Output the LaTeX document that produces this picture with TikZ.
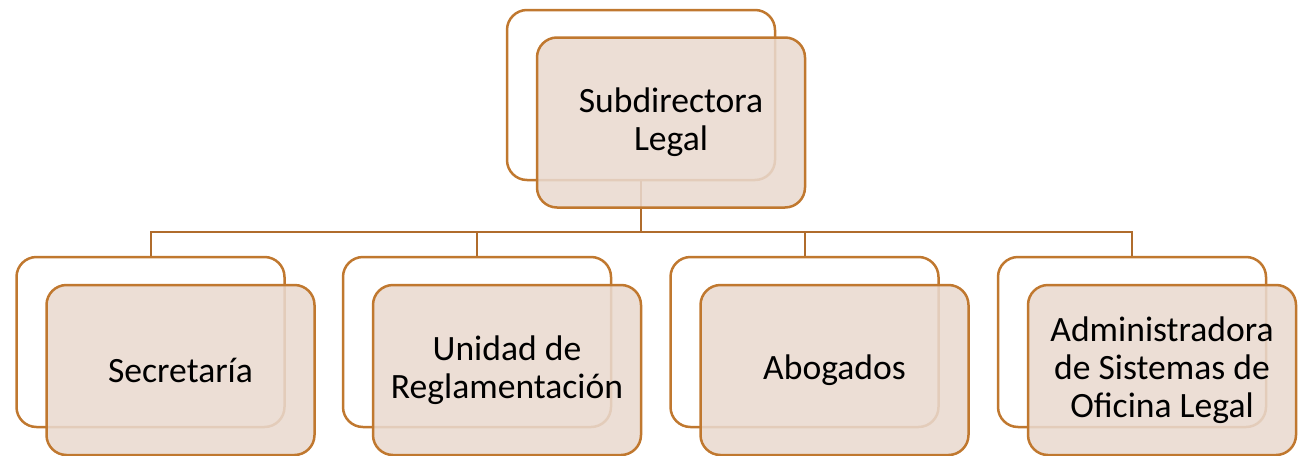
\documentclass[tikz,border=0pt]{standalone}
\usepackage{fontspec}
\setmainfont{Carlito}
\definecolor{boxline}{HTML}{C0782F}
\definecolor{boxfill}{HTML}{E9D9CF}
\definecolor{connline}{HTML}{B06C2C}
\begin{document}
\begin{tikzpicture}[x=0.5pt,y=-0.5pt,line width=1.25pt,
    back/.style={draw=boxline,rounded corners=10pt,minimum width=134pt,minimum height=85pt,inner sep=0pt},
    front/.style={back,fill=boxfill,fill opacity=0.87,text opacity=1,align=center,font=\fontsize{17.8}{19}\selectfont},
    conn/.style={draw=connline,line width=1pt}]
    \useasboundingbox(0,0)rectangle(1299,455);
    % outline boxes and connectors first
    \node[back](subB)at(641,95){};
    \foreach \n/\x in {secB/150.5,uniB/477,aboB/804.5,admB/1132}
        \node[back](\n)at(\x,342){};
    \coordinate(bus)at(641,232);
    \draw[conn](subB.south)--(bus);
    \foreach \n in {secB,uniB,aboB,admB}
        \draw[conn](bus)-|(\n.north);
    % filled boxes on top
    \node[front](sub)at(671,122.5){Subdirectora\\Legal};
    \node[front](sec)at(180.5,370){Secretaría};
    \node[front](uni)at(507,370){Unidad de\\Reglamentación};
    \node[front](abo)at(834.5,370){Abogados};
    \node[front](adm)at(1162,370){Administradora\\de Sistemas de\\Oficina Legal};
\end{tikzpicture}
\end{document}
